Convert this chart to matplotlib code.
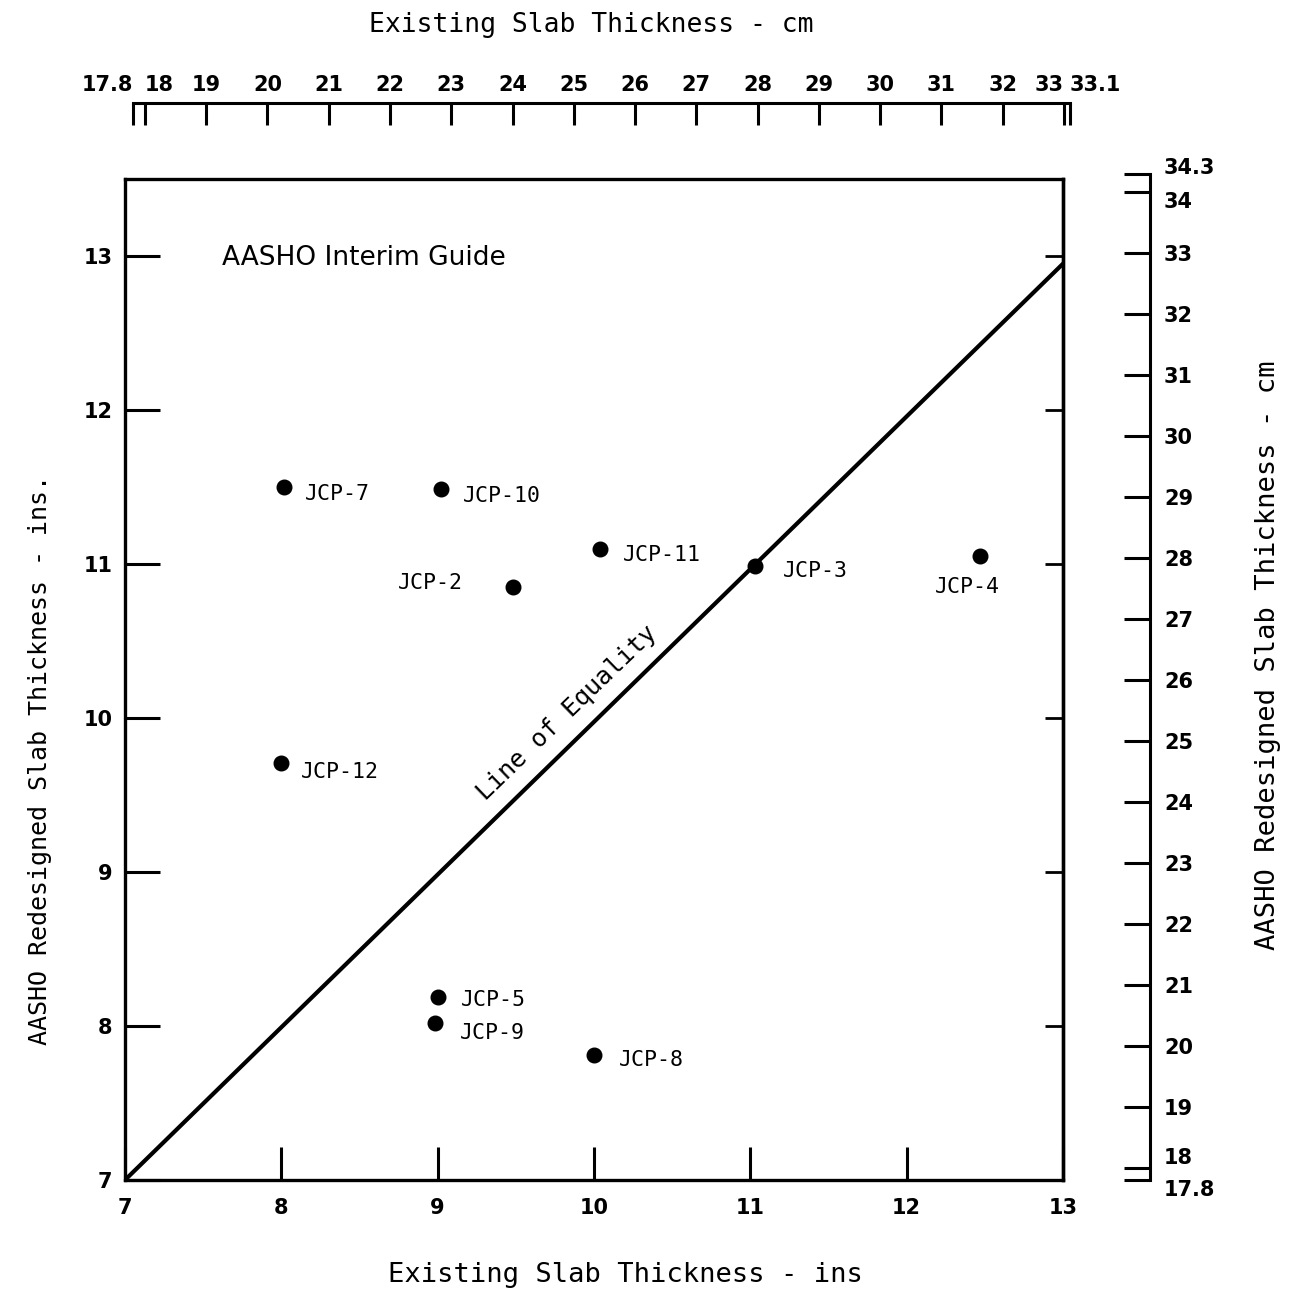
import matplotlib.pyplot as plt

# slab thickness per section (inches): existing vs AASHO redesign
sections = ['JCP-7', 'JCP-10', 'JCP-11', 'JCP-2', 'JCP-3',
            'JCP-4', 'JCP-12', 'JCP-5', 'JCP-9', 'JCP-8']
existing_in = [8.02, 9.02, 10.04, 9.48, 11.03, 12.47, 8.00, 9.00, 8.98, 10.00]
redesigned_in = [11.50, 11.49, 11.10, 10.85, 10.99, 11.05, 9.71, 8.19, 8.02, 7.81]

equality_x = [7, 13]
equality_y = [7, 12.95]

in_ticks = [7, 8, 9, 10, 11, 12, 13]
cm_top_ticks = [17.8, 18, 19, 20, 21, 22, 23, 24, 25, 26, 27, 28, 29, 30, 31, 32, 33, 33.1]
cm_top_labels = ['17.8', '18', '19', '20', '21', '22', '23', '24', '25', '26',
                 '27', '28', '29', '30', '31', '32', '33', '33.1']
cm_right_ticks = [17.8, 18, 19, 20, 21, 22, 23, 24, 25, 26, 27, 28, 29, 30, 31, 32, 33, 34, 34.3]
cm_right_labels = ['17.8', '18', '19', '20', '21', '22', '23', '24', '25', '26',
                   '27', '28', '29', '30', '31', '32', '33', '34', '34.3']

# label placement relative to each dot (pixels), not data
label_offsets = {
    'JCP-7': (20, -7, 'left'), 'JCP-10': (22, -7, 'left'), 'JCP-11': (23, -6, 'left'),
    'JCP-2': (-50, 4, 'right'), 'JCP-3': (28, -5, 'left'), 'JCP-4': (-13, -31, 'center'),
    'JCP-12': (20, -9, 'left'), 'JCP-5': (23, -3, 'left'), 'JCP-9': (25, -10, 'left'),
    'JCP-8': (25, -5, 'left'),
}

S = 1292.0
tick_font = dict(family='DejaVu Sans', weight='bold', size=15)
mono = 'DejaVu Sans Mono'

fig = plt.figure(figsize=(12.92, 12.92), dpi=100)
fig.patch.set_facecolor('white')

ax = fig.add_axes([125 / S, 112 / S, 938 / S, 1001 / S])
ax.set_xlim(7, 13)
ax.set_ylim(7, 13.5)
for sp in ax.spines.values():
    sp.set_linewidth(2.4)

ax.plot(equality_x, equality_y, color='black', lw=3)
ax.plot(existing_in, redesigned_in, 'o', color='black', ms=10.5)

for name, x, y in zip(sections, existing_in, redesigned_in):
    dx, dy, ha = label_offsets[name]
    ax.annotate(name, (x, y), xytext=(dx, dy), textcoords='offset pixels',
                ha=ha, va='center', family=mono, fontsize=15.5)

ax.text(9.83, 10.03, 'Line of Equality', rotation=44, rotation_mode='anchor',
        ha='center', va='center', family=mono, fontsize=18)
ax.text(7.62, 12.99, 'AASHO Interim Guide', ha='left', va='center',
        family='DejaVu Sans', fontsize=19)

ax.set_xticks(in_ticks)
ax.set_yticks(in_ticks)
ax.set_xticklabels([str(t) for t in in_ticks], fontdict=tick_font)
ax.set_yticklabels([str(t) for t in in_ticks], fontdict=tick_font)
ax.tick_params(axis='x', direction='in', length=24, width=2.2, pad=13, top=False)
ax.tick_params(axis='y', direction='in', length=25, width=2.2, pad=9, right=False)

right_in = ax.secondary_yaxis('right', functions=(lambda v: v, lambda v: v))
right_in.set_yticks(in_ticks[1:])
right_in.tick_params(direction='in', length=13, width=2, labelright=False)
right_in.spines['right'].set_linewidth(2.4)

# top cm scale
ax_top = fig.add_axes([132.7 / S, (S - 103) / S, 937.3 / S, 0.0001])
ax_top.set_xlim(17.8, 33.1)
ax_top.set_yticks([])
for side in ['left', 'right', 'bottom']:
    ax_top.spines[side].set_visible(False)
ax_top.spines['top'].set_linewidth(2.2)
ax_top.xaxis.set_ticks_position('top')
ax_top.set_xticks(cm_top_ticks)
ax_top.set_xticklabels(cm_top_labels, fontdict=tick_font)
ax_top.tick_params(axis='x', direction='in', length=16, width=2.2, pad=6)
top_labels = ax_top.get_xticklabels()
top_labels[0].set_ha('right')
top_labels[1].set_ha('left')
top_labels[-2].set_ha('right')
top_labels[-1].set_ha('left')

# right cm scale
ax_right = fig.add_axes([1150 / S, 112 / S, 0.0001, 1006 / S])
ax_right.set_ylim(17.8, 34.3)
ax_right.set_xticks([])
for side in ['left', 'top', 'bottom']:
    ax_right.spines[side].set_visible(False)
ax_right.spines['right'].set_linewidth(2.2)
ax_right.yaxis.set_ticks_position('right')
ax_right.set_yticks(cm_right_ticks)
ax_right.set_yticklabels(cm_right_labels, fontdict=tick_font)
ax_right.tick_params(axis='y', direction='in', length=19, width=2.2, pad=10)
right_labels = ax_right.get_yticklabels()
right_labels[0].set_va('top')
right_labels[1].set_va('bottom')
right_labels[-2].set_va('top')
right_labels[-1].set_va('baseline')

fig.text(591 / S, 1 - 25 / S, 'Existing Slab Thickness - cm', ha='center', va='center',
         family=mono, fontsize=19)
fig.text(625 / S, 1 - 1275 / S, 'Existing Slab Thickness - ins', ha='center', va='center',
         family=mono, fontsize=19.5)
fig.text(40 / S, 1 - 760 / S, 'AASHO Redesigned Slab Thickness - ins.', rotation=90,
         ha='center', va='center', family=mono, fontsize=18)
fig.text(1268 / S, 1 - 655 / S, 'AASHO Redesigned Slab Thickness - cm', rotation=90,
         ha='center', va='center', family=mono, fontsize=19.5)

fig.savefig('out.png', dpi=100, facecolor='white')
